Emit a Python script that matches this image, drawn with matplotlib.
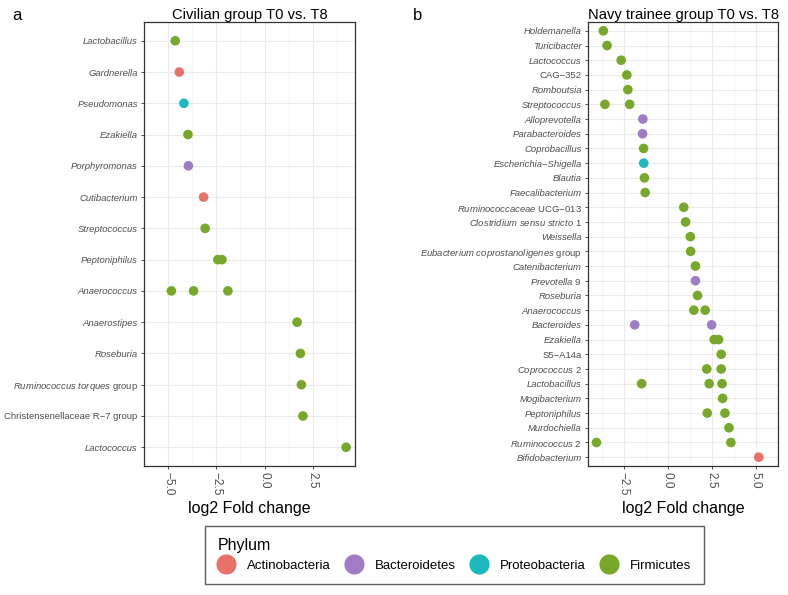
import numpy as np
import matplotlib.pyplot as plt
from matplotlib.lines import Line2D

plt.rcParams["font.family"] = ["Liberation Sans", "DejaVu Sans"]
plt.rcParams["mathtext.fontset"] = "custom"
plt.rcParams["mathtext.rm"] = "Liberation Sans"
plt.rcParams["mathtext.it"] = "Liberation Sans:italic"

phyla = ["Actinobacteria", "Bacteroidetes", "Proteobacteria", "Firmicutes"]
phylum_colors = ["#E8716A", "#A07CC5", "#1DB8BD", "#77A829"]

# labels that are set upright (mixed ones use mathtext for the italic part)
upright = ["Christensenellaceae R\u22127 group", "CAG\u2212352", "S5\u2212A14a"]

# civilian group, rows top to bottom
civ_rows = ["Lactobacillus", "Gardnerella", "Pseudomonas", "Ezakiella", "Porphyromonas",
            "Cutibacterium", "Streptococcus", "Peptoniphilus", "Anaerococcus", "Anaerostipes",
            "Roseburia", r"$\mathit{Ruminococcus\ torques}$ group",
            "Christensenellaceae R\u22127 group", "Lactococcus"]
civ_genus = [0, 1, 2, 3, 4, 5, 6, 7, 7, 8, 8, 8, 9, 10, 11, 12, 13]
civ_lfc = [-4.63, -4.42, -4.18, -3.97, -3.95, -3.16, -3.08, -2.42, -2.21,
           -4.83, -3.68, -1.90, 1.69, 1.86, 1.91, 1.99, 4.23]
civ_phylum = ["Firmicutes", "Actinobacteria", "Proteobacteria", "Firmicutes", "Bacteroidetes",
              "Actinobacteria", "Firmicutes", "Firmicutes", "Firmicutes",
              "Firmicutes", "Firmicutes", "Firmicutes", "Firmicutes", "Firmicutes",
              "Firmicutes", "Firmicutes", "Firmicutes"]

# navy trainee group, rows top to bottom
navy_rows = ["Holdemanella", "Turicibacter", "Lactococcus", "CAG\u2212352", "Romboutsia",
             "Streptococcus", "Alloprevotella", "Parabacteroides", "Coprobacillus",
             "Escherichia\u2212Shigella", "Blautia", "Faecalibacterium",
             r"$\mathit{Ruminococcaceae}$ UCG$-$013",
             r"$\mathit{Clostridium\ sensu\ stricto}$ 1",
             "Weissella", r"$\mathit{Eubacterium\ coprostanoligenes}$ group",
             "Catenibacterium", r"$\mathit{Prevotella}$ 9", "Roseburia", "Anaerococcus",
             "Bacteroides", "Ezakiella", "S5\u2212A14a", r"$\mathit{Coprococcus}$ 2",
             "Lactobacillus", "Mogibacterium", "Peptoniphilus", "Murdochiella",
             r"$\mathit{Ruminococcus}$ 2", "Bifidobacterium"]
navy_genus = [0, 1, 2, 3, 4, 5, 5, 6, 7, 8, 9, 10, 11, 12, 13, 14, 15, 16, 17, 18,
              19, 19, 20, 20, 21, 21, 22, 23, 23, 24, 24, 24, 25, 26, 26, 27, 28, 28, 29]
navy_lfc = [-3.65, -3.44, -2.64, -2.32, -2.26, -3.56, -2.16, -1.41, -1.43, -1.37,
            -1.36, -1.32, -1.28, 0.91, 1.01, 1.28, 1.30, 1.57, 1.57, 1.69,
            1.48, 2.12, -1.87, 2.49, 2.63, 2.88, 3.03, 2.21, 3.03, -1.48, 2.35, 3.08,
            3.11, 2.24, 3.24, 3.47, -4.04, 3.58, 5.16]
navy_phylum = ["Firmicutes"] * 7 + ["Bacteroidetes", "Bacteroidetes", "Firmicutes",
               "Proteobacteria", "Firmicutes", "Firmicutes", "Firmicutes", "Firmicutes",
               "Firmicutes", "Firmicutes", "Firmicutes", "Bacteroidetes", "Firmicutes",
               "Firmicutes", "Firmicutes", "Bacteroidetes", "Bacteroidetes"] + \
              ["Firmicutes"] * 14 + ["Actinobacteria"]


def draw_panel(ax, rows, genus, lfc, phylum, xlim, xticks, title):
    n = len(rows)
    y = [n - 1 - g for g in genus]
    cols = [phylum_colors[phyla.index(p)] for p in phylum]
    ax.scatter(lfc, y, c=cols, s=48, edgecolors="none", zorder=3)
    ax.set_xlim(*xlim)
    ax.set_ylim(-0.6, n - 1 + 0.6)
    ax.set_xticks(xticks)
    ax.set_xticks(list(np.array(xticks) - 1.25) + [xticks[-1] + 1.25], minor=True)
    ax.set_xticklabels([f"{t:.1f}".replace("-", "\u2212") for t in xticks],
                       rotation=-90, fontsize=8.6, color="#4D4D4D")
    ax.set_yticks(range(n))
    ax.set_yticklabels(rows[::-1], fontsize=6.8, color="#4D4D4D")
    for lab in ax.get_yticklabels():
        t = lab.get_text()
        if "$" not in t and t not in upright:
            lab.set_fontstyle("italic")
    ax.grid(True, which="major", color="#EBEBEB", linewidth=0.8, zorder=0)
    ax.grid(True, which="minor", axis="x", color="#F2F2F2", linewidth=0.5, zorder=0)
    ax.set_axisbelow(True)
    ax.tick_params(axis="both", which="major", length=2.5, width=0.6,
                   color="#333333", pad=2)
    ax.tick_params(axis="both", which="minor", length=0)
    for sp in ax.spines.values():
        sp.set_color("#333333")
        sp.set_linewidth(0.9)
    ax.set_xlabel("log2 Fold change", fontsize=11.5, labelpad=4)
    ax.set_title(title, fontsize=10.6, pad=2)


fig = plt.figure(figsize=(7.88, 5.95), dpi=100)
ax1 = fig.add_axes([144 / 788, 129 / 595, 211 / 788, 444 / 595])
ax2 = fig.add_axes([588 / 788, 129 / 595, 190 / 788, 444 / 595])

draw_panel(ax1, civ_rows, civ_genus, civ_lfc, civ_phylum, (-5.31, 4.69),
           [-5.0, -2.5, 0.0, 2.5], "Civilian group T0 vs. T8")
draw_panel(ax2, navy_rows, navy_genus, navy_lfc, navy_phylum, (-4.52, 5.62),
           [-2.5, 0.0, 2.5, 5.0], "Navy trainee group T0 vs. T8")

fig.text(12 / 788, 1 - 16 / 595, "a", fontsize=12, va="center")
fig.text(413 / 788, 1 - 16 / 595, "b", fontsize=12, va="center")

handles = [Line2D([], [], marker="o", linestyle="none", markersize=14.5,
                  markerfacecolor=c, markeredgecolor="none") for c in phylum_colors]
leg = fig.legend(handles, phyla, title="Phylum", ncol=4, loc="center",
                 bbox_to_anchor=(454.5 / 788, 1 - 555 / 595), frameon=True,
                 fancybox=False, edgecolor="#333333", fontsize=9.5,
                 title_fontsize=11.5, alignment="left", handletextpad=1.0,
                 columnspacing=1.15, borderpad=0.95, handlelength=1.2)
leg.get_frame().set_linewidth(1.0)

fig.savefig("out.png", dpi=100)
